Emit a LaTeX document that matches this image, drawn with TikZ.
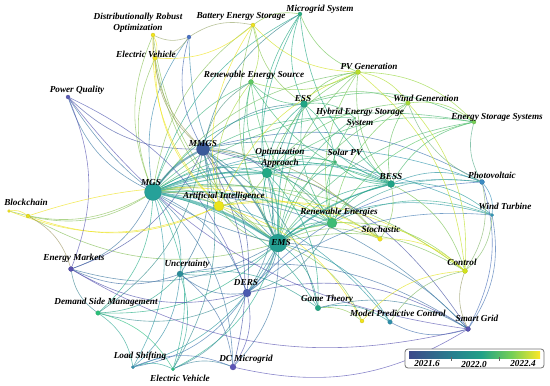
\documentclass[tikz,border=0pt]{standalone}
\usepackage{fontspec}
\setmainfont{Liberation Serif}
\pgfdeclarelayer{bg}
\pgfsetlayers{bg,main}
\definecolor{cdro}{HTML}{F2E51C}
\definecolor{cbes}{HTML}{EEE41E}
\definecolor{cbt}{HTML}{4A72C4}
\definecolor{cmgsys}{HTML}{27AD81}
\definecolor{cevt}{HTML}{F0E51C}
\definecolor{cres}{HTML}{5EC962}
\definecolor{cpq}{HTML}{5B5BB5}
\definecolor{cpvg}{HTML}{B8DE29}
\definecolor{cess}{HTML}{21A585}
\definecolor{cwg}{HTML}{A5DB36}
\definecolor{chess}{HTML}{5CC863}
\definecolor{cesss}{HTML}{75D054}
\definecolor{cmmgs}{HTML}{3B5A9A}
\definecolor{coa}{HTML}{22A884}
\definecolor{cspv}{HTML}{3FBC73}
\definecolor{cbess}{HTML}{20A386}
\definecolor{cpv}{HTML}{3B8BC2}
\definecolor{cmgs}{HTML}{26A199}
\definecolor{cai}{HTML}{EBE51A}
\definecolor{cbc}{HTML}{F2E51C}
\definecolor{cbct}{HTML}{E8E01E}
\definecolor{cwt}{HTML}{3597B5}
\definecolor{cre}{HTML}{3DBC74}
\definecolor{csto}{HTML}{F3E51C}
\definecolor{cems}{HTML}{239E91}
\definecolor{cctl}{HTML}{D2E21B}
\definecolor{cem}{HTML}{5A52B0}
\definecolor{cunc}{HTML}{2A8C9A}
\definecolor{cders}{HTML}{4A5AAF}
\definecolor{cdsm}{HTML}{2BC07A}
\definecolor{cgt}{HTML}{22A884}
\definecolor{cmpc}{HTML}{F2E41A}
\definecolor{cmpct}{HTML}{2F8FAB}
\definecolor{csg}{HTML}{5A54B2}
\definecolor{cls}{HTML}{3592B0}
\definecolor{cevb}{HTML}{2BBF88}
\definecolor{cdcm}{HTML}{5B55B8}
\pgfdeclarehorizontalshading{viridis}{100bp}{rgb(0bp)=(0.24,0.29,0.54); rgb(25bp)=(0.24,0.29,0.54); rgb(42.5bp)=(0.15,0.51,0.56); rgb(52.5bp)=(0.13,0.63,0.53); rgb(64bp)=(0.45,0.81,0.34); rgb(75bp)=(0.99,0.91,0.15); rgb(100bp)=(0.99,0.91,0.15)}
\tikzset{
  kwnode/.style={circle,inner sep=0pt,minimum size=#1},
  kwlabel/.style={inner sep=0pt,align=center,font=\fontsize{9.2}{11}\selectfont\bfseries\itshape},
  edge/.style={line width=0.6pt,opacity=0.7},
  hub/.style={line width=#1,opacity=0.6}
}
\newcommand\kw[5]{\node[kwnode=#5,fill=c#1,draw=c#1!80!black,line width=0.2pt] (#1) at (#2,#3) {};}
\newcommand\lab[4]{\node[kwlabel] (l#1) at (#2,#3) {#4};}
\begin{document}
\begin{tikzpicture}[x=1pt,y=-1pt]
\useasboundingbox (0,0) rectangle (550,386);
% nodes
\kw{dro}{153}{35}{4}{4}
\kw{bes}{253}{25}{4}{4}
\kw{bt}{189}{37}{4}{4}
\kw{mgsys}{300}{14}{4}{4}
\kw{evt}{155}{58}{4.5}{4.5}
\kw{res}{251}{82}{5}{5}
\kw{pq}{68}{97}{4}{4}
\kw{pvg}{358}{72}{5}{5}
\kw{ess}{304}{104}{7}{7}
\kw{wg}{408}{103}{4.5}{4.5}
\kw{hess}{355}{118}{1.5}{1.5}
\kw{esss}{474}{122}{4}{4}
\kw{mmgs}{203}{149}{13}{13}
\kw{oa}{267}{173}{10}{10}
\kw{spv}{335}{162}{3.5}{3.5}
\kw{bess}{391}{184}{7}{7}
\kw{pv}{482}{182}{5}{5}
\kw{mgs}{153}{192}{17}{17}
\kw{ai}{219}{206}{10}{10}
\kw{bc}{9}{211}{3}{3}
\kw{bct}{28}{216}{4}{4}
\kw{wt}{492}{215}{3.5}{3.5}
\kw{re}{332}{223}{10}{10}
\kw{sto}{380}{239}{4.5}{4.5}
\kw{ems}{278}{243}{18}{18}
\kw{ctl}{465}{271}{5}{5}
\kw{em}{71}{269}{5}{5}
\kw{unc}{180}{274}{6}{6}
\kw{ders}{247}{293}{8}{8}
\kw{dsm}{98}{313}{4.5}{4.5}
\kw{gt}{318}{308}{5.5}{5.5}
\kw{mpc}{362}{321}{4}{4}
\kw{mpct}{390}{322}{4.5}{4.5}
\kw{sg}{468}{329}{5}{5}
\kw{ls}{133}{367}{3.5}{3.5}
\kw{evb}{173}{369}{3.5}{3.5}
\kw{dcm}{233}{367}{6}{6}
% edges
\begin{pgfonlayer}{bg}
\foreach \a/\b in {ems/mmgs,ems/oa,ems/re,ems/bess,ems/ess,ems/ai,ems/ders,ems/unc,ems/dsm,ems/gt,ems/mpc,ems/mpct,ems/sg,ems/ls,ems/evb,ems/dcm,ems/sto,ems/ctl,ems/wt,ems/pv,ems/esss,ems/wg,ems/pvg,ems/res,ems/mgsys,ems/bes,ems/dro,ems/evt,ems/bt,ems/pq,ems/em,ems/bct,ems/spv,ems/hess,
 mgs/oa,mgs/re,mgs/bess,mgs/ess,mgs/ai,mgs/ders,mgs/unc,mgs/dsm,mgs/gt,mgs/mpct,mgs/sg,mgs/ls,mgs/evb,mgs/dcm,mgs/sto,mgs/ctl,mgs/pv,mgs/wt,mgs/esss,mgs/pvg,mgs/res,mgs/mgsys,mgs/bes,mgs/dro,mgs/evt,mgs/bt,mgs/pq,mgs/em,mgs/bc,mgs/bct,mgs/spv,mgs/hess,
 mmgs/oa,mmgs/re,mmgs/bess,mmgs/ess,mmgs/ai,mmgs/ders,mmgs/unc,mmgs/dsm,mmgs/dcm,mmgs/evb,mmgs/pq,mmgs/bt,mmgs/dro,mmgs/evt,mmgs/res,mmgs/mgsys,mmgs/em,mmgs/gt,mmgs/sg,mmgs/sto,mmgs/pv,
 oa/re,oa/bess,oa/ess,oa/ai,oa/ders,oa/spv,oa/pvg,oa/wg,oa/esss,oa/res,oa/mgsys,oa/sto,oa/gt,
 re/bess,re/ess,re/spv,re/pvg,re/wg,re/esss,re/pv,re/wt,re/sto,re/ctl,re/res,re/hess,re/ai,re/ders,
 bess/ess,bess/pv,bess/wt,bess/spv,bess/pvg,bess/wg,bess/esss,bess/ctl,bess/sto,bess/mgsys,bess/res,bess/hess,
 ess/pvg,ess/wg,ess/spv,ess/hess,ess/esss,ess/res,ess/mgsys,ess/bes,
 ai/bc,ai/bct,ai/sto,ai/ctl,ai/evt,ai/dro,ai/bes,ai/mpc,ai/res,ai/pvg,
 ders/dcm,ders/unc,ders/em,ders/sg,ders/ls,ders/evb,ders/dsm,ders/pv,ders/wt,
 unc/dsm,unc/ls,unc/evb,unc/em,unc/gt,unc/sg,unc/dcm,
 pv/wt,pv/ctl,pv/sg,pv/esss,pv/wg,wt/ctl,wt/sg,
 pvg/wg,pvg/esss,pvg/ctl,pvg/mgsys,pvg/bes,pvg/res,wg/esss,wg/ctl,
 dsm/ls,dsm/evb,dsm/em,sg/ctl,sg/mpct,sg/em,sg/pq,sg/dcm,pq/em,pq/ders,
 bt/dro,bt/bes,bt/evt,bes/evt,bes/res,bes/mgsys,dro/evt,bc/bct,bct/sto,bct/em,
 gt/mpc,gt/mpct,gt/sg,mpct/ctl,mpc/ctl,sto/ctl,ls/evb,evb/dcm,ls/dcm}
  \draw[edge,draw=c\a!50!c\b] (\a) to[bend left=22] (\b);
\draw[hub=2.6pt,draw=cems!50!cmgs] (mgs) to[bend left=10] (ems);
\draw[hub=2pt,draw=cmgs!50!cmmgs] (mgs) to[bend left=12] (mmgs);
\draw[hub=1.6pt,draw=cmgs!50!coa] (mgs) to[bend left=12] (oa);
\draw[hub=1.5pt,draw=cmmgs!50!cems] (mmgs) to[bend left=12] (ems);
\draw[hub=1.4pt,draw=cems!50!cre] (ems) to[bend left=12] (re);
\draw[hub=1.2pt,draw=cems!50!cbess] (ems) to[bend left=12] (bess);
\draw[hub=1.2pt,draw=cems!50!coa] (oa) to[bend left=12] (ems);
\draw[hub=1.2pt,draw=cmgs!50!cre] (mgs) to[bend left=12] (re);
\draw[hub=1.1pt,draw=cems!50!cders] (ems) to[bend left=12] (ders);
\draw[hub=1pt,draw=cems!50!cess] (ems) to[bend left=12] (ess);
\draw[hub=1pt,draw=cmgs!50!cai] (mgs) to[bend left=12] (ai);
\draw[hub=1pt,draw=cmgs!50!cbess] (mgs) to[bend left=12] (bess);
\end{pgfonlayer}
% labels
\lab{dro}{138}{22.5}{Distributionally Robust\\Optimization}
\lab{bes}{241}{16}{Battery Energy Storage}
\lab{mgsys}{320}{9}{Microgrid System}
\lab{evt}{146}{54}{Electric Vehicle}
\lab{res}{254}{75}{Renewable Energy Source}
\lab{pq}{77}{90}{Power Quality}
\lab{pvg}{369}{66}{PV Generation}
\lab{ess}{303}{98}{ESS}
\lab{wg}{426}{98}{Wind Generation}
\lab{hess}{360}{117.5}{Hybrid Energy Storage\\System}
\lab{esss}{497}{117}{Energy Storage Systems}
\lab{mmgs}{203}{143}{MMGS}
\lab{oa}{280}{158}{Optimization\\Approach}
\lab{spv}{345}{152}{Solar PV}
\lab{bess}{391}{176}{BESS}
\lab{pv}{492}{175}{Photovoltaic}
\lab{mgs}{151}{182}{MGS}
\lab{ai}{224}{196}{Artificial Intelligence}
\lab{bc}{26}{202}{Blockchain}
\lab{wt}{505}{206}{Wind Turbine}
\lab{re}{339}{212}{Renewable Energies}
\lab{sto}{381}{229}{Stochastic}
\lab{ems}{281}{242}{EMS}
\lab{ctl}{462}{262}{Control}
\lab{em}{74}{258}{Energy Markets}
\lab{unc}{187}{264}{Uncertainty}
\lab{ders}{246}{282}{DERS}
\lab{dsm}{106}{302}{Demand Side Management}
\lab{gt}{327}{299}{Game Theory}
\lab{mpct}{398}{313}{Model Predictive Control}
\lab{sg}{477}{318}{Smart Grid}
\lab{ls}{140}{356}{Load Shifting}
\lab{evb}{180}{378}{Electric Vehicle}
\lab{dcm}{246}{359}{DC Microgrid}
% colour bar
\node[draw=black!55,rounded corners=3pt,fill=white,line width=0.8pt,minimum width=139pt,minimum height=19pt,inner sep=0pt] (cbar) at (474.5,358.5) {};
\shade[shading=viridis] (409,351) rectangle (540,358);
\draw[black!60,line width=0.4pt] (451,357) -- (451,360.5) (499,357) -- (499,360.5);
\node[kwlabel] (t1) at (427,363.5) {2021.6};
\node[kwlabel] (t2) at (474,364.5) {2022.0};
\node[kwlabel] (t3) at (523,363.5) {2022.4};
\end{tikzpicture}
\end{document}
